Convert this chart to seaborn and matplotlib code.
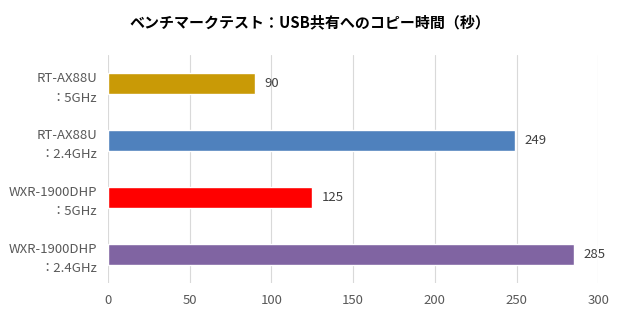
import matplotlib.pyplot as plt
import seaborn as sns
import pandas as pd

title = 'ベンチマークテスト：USB共有へのコピー時間（秒）'
models = ['RT-AX88U\n：5GHz', 'RT-AX88U\n：2.4GHz', 'WXR-1900DHP\n：5GHz', 'WXR-1900DHP\n：2.4GHz']
seconds = [90, 249, 125, 285]
colors = ['#C99A06', '#4F81BD', '#FF0000', '#8064A2']
xticks = [0, 50, 100, 150, 200, 250, 300]

df = pd.DataFrame({'model': models, 'sec': seconds})

sns.set_style('white')
plt.rcParams['font.family'] = ['Noto Sans CJK JP', 'DejaVu Sans']

fig = plt.figure(figsize=(6.2, 3.2), dpi=100)
ax = fig.add_axes([0.174, 0.116, 0.791, 0.712])
sns.barplot(data=df, y='model', x='sec', hue='model', palette=colors,
            orient='h', width=0.36, legend=False, ax=ax, saturation=1)

ax.set_xlim(0, 300)
ax.set_xticks(xticks)
ax.set_xlabel('')
ax.set_ylabel('')
ax.grid(axis='x', color='#D9D9D9', linewidth=0.8)
ax.set_axisbelow(True)
for s in ax.spines.values():
    s.set_visible(False)
ax.tick_params(axis='both', length=0, labelsize=9.5, colors='#595959', pad=8)
ax.tick_params(axis='y', pad=7.5)
for lab in ax.get_yticklabels():
    lab.set_linespacing(1.65)
    lab.set_horizontalalignment('right')
    lab.set_multialignment('right')

for i, v in enumerate(seconds):
    ax.text(v + 6, i, str(v), va='center', ha='left', fontsize=9.5, color='#404040')

fig.suptitle(title, x=0.5, y=0.955, fontsize=10.8, fontweight='bold', color='#000000')

fig.savefig('out.png', dpi=100)
